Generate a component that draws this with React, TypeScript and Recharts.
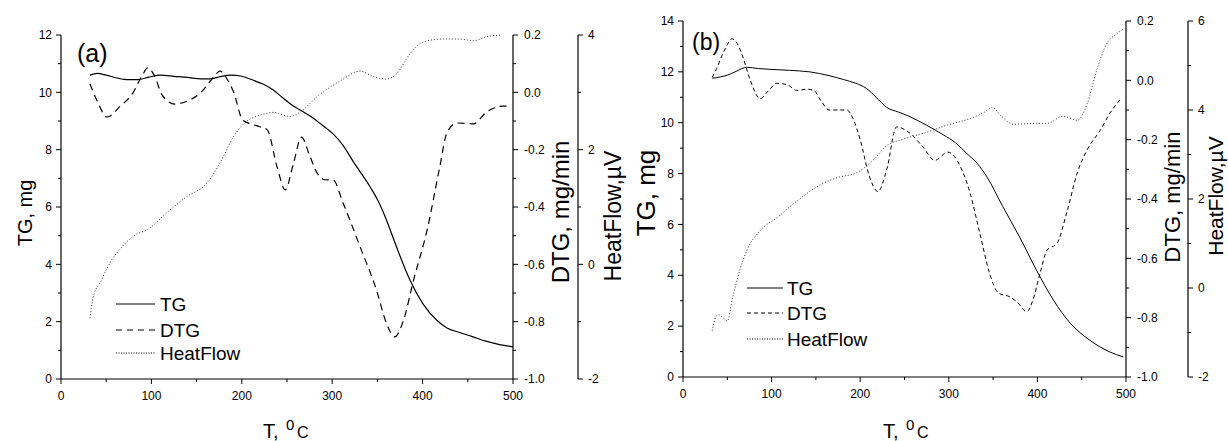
import React from "react";
import { ComposedChart, Line, XAxis, YAxis } from "recharts";

// axis ticks
const tempTicks = [0, 50, 100, 150, 200, 250, 300, 350, 400, 450, 500];
const tgTicksA = [0, 1, 2, 3, 4, 5, 6, 7, 8, 9, 10, 11, 12];
const tgTicksB = [0, 1, 2, 3, 4, 5, 6, 7, 8, 9, 10, 11, 12, 13, 14];
const dtgTicks = [-1.0, -0.9, -0.8, -0.7, -0.6, -0.5, -0.4, -0.3, -0.2, -0.1, 0.0, 0.1, 0.2];
const hfTicksA = [-2, -1, 0, 1, 2, 3, 4];
const hfTicksB = [-2, -1, 0, 1, 2, 3, 4, 5, 6];

const seriesNames = ["TG", "DTG", "HeatFlow"];

// panel (a): [T, value]
const tgA: [number, number][] = [
  [32, 10.6], [40, 10.66], [50, 10.6], [62, 10.5], [75, 10.44], [85, 10.44], [97, 10.53],
  [110, 10.6], [125, 10.56], [140, 10.52], [155, 10.47], [165, 10.47], [176, 10.55],
  [188, 10.6], [200, 10.56], [212, 10.43], [224, 10.28], [234, 10.1], [245, 9.82],
  [257, 9.52], [268, 9.32], [278, 9.12], [288, 8.88], [301, 8.55], [312, 8.15], [323, 7.6],
  [342, 6.7], [351, 6.2], [360, 5.55], [371, 4.62], [386, 3.45], [400, 2.64], [416, 2.04],
  [427, 1.78], [440, 1.63], [455, 1.48], [470, 1.32], [485, 1.2], [500, 1.12],
];
const dtgA: [number, number][] = [
  [32, 0.03], [40, -0.03], [51, -0.086], [65, -0.05], [80, 0.0], [90, 0.06], [96, 0.085],
  [103, 0.06], [112, -0.01], [126, -0.041], [140, -0.03], [155, 0.0], [168, 0.05],
  [176, 0.074], [183, 0.05], [191, 0.0], [201, -0.097], [210, -0.11], [220, -0.12],
  [228, -0.13], [239, -0.26], [248, -0.34], [257, -0.25], [266, -0.156], [275, -0.22],
  [283, -0.28], [292, -0.305], [301, -0.306], [312, -0.386], [331, -0.54], [349, -0.69],
  [360, -0.805], [369, -0.853], [379, -0.794], [390, -0.655], [405, -0.48], [419, -0.26],
  [427, -0.14], [438, -0.107], [456, -0.11], [471, -0.068], [489, -0.048], [497, -0.048],
];
const hfA: [number, number][] = [
  [32, -0.94], [34, -0.7], [37, -0.5], [43, -0.33], [50, -0.1], [55, 0.05], [65, 0.26],
  [80, 0.49], [98, 0.63], [117, 0.9], [139, 1.18], [161, 1.41], [176, 1.77], [191, 2.23],
  [205, 2.49], [220, 2.6], [235, 2.65], [253, 2.58], [264, 2.65], [283, 2.92], [309, 3.2],
  [331, 3.37], [345, 3.28], [360, 3.23], [371, 3.32], [386, 3.67], [401, 3.88], [423, 3.93],
  [441, 3.93], [456, 3.9], [471, 3.97], [486, 4.0],
];

// panel (b)
const tgB: [number, number][] = [
  [33, 11.75], [42, 11.8], [50, 11.87], [60, 12.02], [72, 12.18], [85, 12.13], [98, 12.1],
  [120, 12.06], [143, 12.0], [165, 11.85], [181, 11.7], [195, 11.55], [207, 11.35],
  [218, 11.0], [230, 10.6], [243, 10.42], [256, 10.24], [275, 9.9], [294, 9.52], [308, 9.2],
  [320, 8.8], [332, 8.4], [343, 7.87], [361, 6.7], [380, 5.5], [399, 4.2], [418, 3.03],
  [437, 2.12], [459, 1.45], [482, 0.98], [497, 0.79],
];
const dtgB: [number, number][] = [
  [33, 0.01], [38, 0.04], [45, 0.09], [50, 0.12], [55, 0.14], [60, 0.13], [66, 0.092],
  [76, 0.0], [87, -0.062], [95, -0.04], [106, -0.01], [118, -0.015], [128, -0.034],
  [140, -0.03], [148, -0.035], [156, -0.07], [165, -0.1], [175, -0.1], [185, -0.1],
  [192, -0.13], [200, -0.2], [210, -0.32], [220, -0.375], [230, -0.3], [241, -0.157],
  [256, -0.178], [271, -0.225], [284, -0.27], [299, -0.242], [313, -0.29], [324, -0.38],
  [335, -0.515], [346, -0.65], [356, -0.717], [369, -0.73], [377, -0.747], [388, -0.78],
  [395, -0.74], [403, -0.65], [411, -0.572], [422, -0.55], [433, -0.447], [445, -0.312],
  [456, -0.235], [471, -0.168], [482, -0.11], [493, -0.066],
];
const hfB: [number, number][] = [
  [33, -0.96], [36, -0.7], [40, -0.6], [46, -0.68], [50, -0.74], [56, -0.22], [64, 0.39],
  [72, 0.84], [87, 1.29], [106, 1.58], [129, 1.96], [155, 2.32], [174, 2.48], [196, 2.59],
  [214, 2.86], [230, 3.2], [248, 3.34], [275, 3.5], [298, 3.66], [327, 3.83], [340, 3.95],
  [349, 4.06], [360, 3.85], [373, 3.68], [399, 3.7], [411, 3.7], [429, 3.86], [445, 3.77],
  [456, 4.13], [467, 4.9], [478, 5.48], [490, 5.72], [497, 5.82],
];

const FONT = "Arial, 'Liberation Sans', Helvetica, sans-serif";

const pts = (pairs: [number, number][]) => pairs.map(([T, v]) => ({ T, v }));

// ticks drawn by hand so minor ticks get no label
function makeTick(side: "left" | "right" | "bottom", step: number, fmt: (v: number) => string, gap: number) {
  return (props: any) => {
    const { x, y, payload } = props;
    const v = payload.value;
    const major = Math.abs(v / step - Math.round(v / step)) < 1e-6;
    const len = major ? 5 : 3;
    const label = major ? fmt(v) : "";
    if (side === "left") {
      return (
        <g>
          <line x1={x - len} x2={x} y1={y} y2={y} stroke="#000" />
          <text x={x - 5 - gap} y={y} dy="0.35em" textAnchor="end" fontSize={12} fontFamily={FONT} fill="#000">{label}</text>
        </g>
      );
    }
    if (side === "right") {
      return (
        <g>
          <line x1={x} x2={x + len} y1={y} y2={y} stroke="#000" />
          <text x={x + 5 + gap} y={y} dy="0.35em" textAnchor="start" fontSize={12} fontFamily={FONT} fill="#000">{label}</text>
        </g>
      );
    }
    return (
      <g>
        <line x1={x} x2={x} y1={y} y2={y + len} stroke="#000" />
        <text x={x} y={y + 5 + gap} dy="0.71em" textAnchor="middle" fontSize={12} fontFamily={FONT} fill="#000">{label}</text>
      </g>
    );
  };
}

const intFmt = (v: number) => String(Math.round(v));
const dtgFmt = (v: number) => v.toFixed(1);

interface PanelProps {
  left: number;
  width: number;
  marginTop: number;
  marginBottom: number;
  marginRight: number;
  tgWidth: number;
  dtgWidth: number;
  tgMax: number;
  tgTicks: number[];
  hfMax: number;
  hfTicks: number[];
  tg: [number, number][];
  dtg: [number, number][];
  hf: [number, number][];
  dash: string;
  lw: number;
}

function Panel(p: PanelProps) {
  const axisLine = { stroke: "#000", strokeWidth: 1.2 };
  return (
    <div style={{ position: "absolute", left: p.left, top: 0 }}>
      <ComposedChart
        width={p.width}
        height={441}
        margin={{ top: p.marginTop, right: p.marginRight, bottom: p.marginBottom, left: 0 }}
      >
        <XAxis
          type="number"
          dataKey="T"
          domain={[0, 500]}
          ticks={tempTicks}
          interval={0}
          height={30}
          tickSize={0}
          tickMargin={0}
          tickLine={false}
          axisLine={axisLine}
          tick={makeTick("bottom", 100, intFmt, 7)}
          allowDataOverflow
        />
        <YAxis
          yAxisId="tg"
          orientation="left"
          width={p.tgWidth}
          domain={[0, p.tgMax]}
          ticks={p.tgTicks}
          interval={0}
          tickSize={0}
          tickMargin={0}
          tickLine={false}
          axisLine={axisLine}
          tick={makeTick("left", 2, intFmt, 4)}
        />
        <YAxis
          yAxisId="dtg"
          orientation="right"
          width={p.dtgWidth}
          domain={[-1, 0.2]}
          ticks={dtgTicks}
          interval={0}
          tickSize={0}
          tickMargin={0}
          tickLine={false}
          axisLine={axisLine}
          tick={makeTick("right", 0.2, dtgFmt, 6)}
        />
        <YAxis
          yAxisId="hf"
          orientation="right"
          width={30}
          domain={[-2, p.hfMax]}
          ticks={p.hfTicks}
          interval={0}
          tickSize={0}
          tickMargin={0}
          tickLine={false}
          axisLine={axisLine}
          tick={makeTick("right", 2, intFmt, 5)}
        />
        <Line
          yAxisId="tg"
          data={pts(p.tg)}
          dataKey="v"
          name={seriesNames[0]}
          type="monotone"
          stroke="#000"
          strokeWidth={p.lw}
          dot={false}
          isAnimationActive={false}
        />
        <Line
          yAxisId="dtg"
          data={pts(p.dtg)}
          dataKey="v"
          name={seriesNames[1]}
          type="monotone"
          stroke="#000"
          strokeWidth={p.lw}
          strokeDasharray={p.dash}
          dot={false}
          isAnimationActive={false}
        />
        <Line
          yAxisId="hf"
          data={pts(p.hf)}
          dataKey="v"
          name={seriesNames[2]}
          type="monotone"
          stroke="#333"
          strokeWidth={1}
          strokeDasharray="1 2"
          dot={false}
          isAnimationActive={false}
        />
      </ComposedChart>
    </div>
  );
}

function LegendBox({ x1, x2, tx, rows, dash }: { x1: number; x2: number; tx: number; rows: number[]; dash: string }) {
  const styles = [undefined, dash, "1 1.5"];
  return (
    <g>
      {seriesNames.map((n, i) => (
        <g key={n}>
          <line x1={x1} x2={x2} y1={rows[i]} y2={rows[i]} stroke="#000" strokeWidth={1} strokeDasharray={styles[i]} />
          <text x={tx} y={rows[i] + 7} fontSize={19} fontFamily={FONT} fill="#000">{n}</text>
        </g>
      ))}
    </g>
  );
}

function TempLabel({ x }: { x: number }) {
  return (
    <g fontFamily={FONT} fill="#000">
      <text x={x} y={438} fontSize={20}>T,</text>
      <text x={x + 23} y={430} fontSize={15}>0</text>
      <text x={x + 34} y={438} fontSize={16}>C</text>
    </g>
  );
}

function Overlay() {
  return (
    <svg
      width={1228}
      height={441}
      style={{ position: "absolute", left: 0, top: 0, pointerEvents: "none" }}
      fontFamily={FONT}
    >
      {/* panel (a) */}
      <text x={77} y={62} fontSize={25}>(a)</text>
      <text x={32} y={213} fontSize={20} textAnchor="middle" transform="rotate(-90 32 213)">TG, mg</text>
      <text x={569} y={212} fontSize={24} textAnchor="middle" transform="rotate(-90 569 212)">DTG, mg/min</text>
      <text x={621} y={216} fontSize={23} textAnchor="middle" transform="rotate(-90 621 216)">HeatFlow,µV</text>
      <TempLabel x={263} />
      <LegendBox x1={116} x2={155} tx={160} rows={[304, 330, 353]} dash="6 5" />

      {/* panel (b) */}
      <text x={692} y={50} fontSize={23}>(b)</text>
      <text x={655} y={193} fontSize={26} textAnchor="middle" transform="rotate(-90 655 193)">TG, mg</text>
      <text x={1180} y={197} fontSize={22} textAnchor="middle" transform="rotate(-90 1180 197)">DTG, mg/min</text>
      <text x={1223} y={196} fontSize={21} textAnchor="middle" transform="rotate(-90 1223 196)">HeatFlow,µV</text>
      <TempLabel x={883} />
      <LegendBox x1={747} x2={783} tx={787} rows={[288, 313, 339]} dash="4 3" />
    </svg>
  );
}

export default function App() {
  return (
    <div style={{ position: "absolute", left: 0, top: 0, width: 1228, height: 441, background: "#fff" }}>
      <Panel
        left={0}
        width={620}
        marginTop={35}
        marginBottom={32}
        marginRight={12}
        tgWidth={61}
        dtgWidth={65}
        tgMax={12}
        tgTicks={tgTicksA}
        hfMax={4}
        hfTicks={hfTicksA}
        tg={tgA}
        dtg={dtgA}
        hf={hfA}
        dash="7 5"
        lw={1.2}
      />
      <Panel
        left={620}
        width={608}
        marginTop={21}
        marginBottom={34}
        marginRight={10}
        tgWidth={63}
        dtgWidth={62}
        tgMax={14}
        tgTicks={tgTicksB}
        hfMax={6}
        hfTicks={hfTicksB}
        tg={tgB}
        dtg={dtgB}
        hf={hfB}
        dash="4 3"
        lw={1}
      />
      <Overlay />
    </div>
  );
}
